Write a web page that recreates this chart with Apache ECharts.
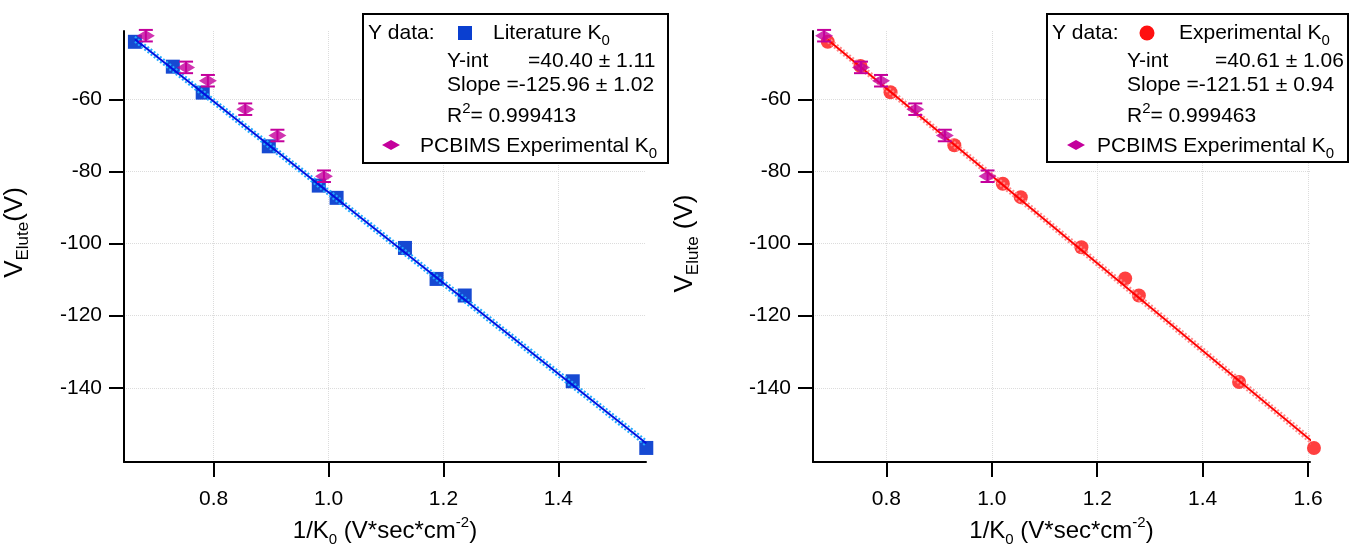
<!DOCTYPE html>
<html>
<head>
<meta charset="utf-8">
<script src="https://cdn.jsdelivr.net/npm/echarts@6/dist/echarts.min.js"></script>
<style>
  html, body { margin: 0; padding: 0; background: #fff; }
  #chart { width: 1350px; height: 544px; }
</style>
</head>
<body>
<div id="chart"></div>
<script>
// PCBIMS experimental K0 (same points in both panels)
const pcbX = [0.682, 0.752, 0.790, 0.855, 0.911, 0.992];
const pcbY = [-42.3, -51.1, -54.8, -62.7, -70.0, -81.3];
const pcbErr = [1.6, 1.6, 1.6, 1.6, 1.6, 1.6];

// literature K0 (left)
const litX = [0.663, 0.729, 0.781, 0.896, 0.983, 1.014, 1.133, 1.188, 1.237, 1.425, 1.553];
const litY = [-44.0, -50.9, -58.1, -73.0, -83.9, -87.3, -101.2, -109.8, -114.4, -138.2, -156.7];
const litFitX = [0.663, 1.553];
const litFitY = [-43.3, -155.4];
const litBandUp = [-42.6, -154.6];
const litBandLo = [-44.0, -156.2];

// experimental K0 (right)
const expX = [0.689, 0.751, 0.808, 0.929, 1.021, 1.055, 1.170, 1.253, 1.279, 1.469, 1.611];
const expY = [-44.0, -50.7, -58.0, -72.7, -83.4, -87.1, -101.0, -109.7, -114.4, -138.4, -156.7];
const expFitX = [0.689, 1.611];
const expFitY = [-43.4, -155.3];
const expBandUp = [-42.7, -154.5];
const expBandLo = [-44.1, -156.1];

const yTicks = [-140, -120, -100, -80, -60];
const xTicksL = [0.8, 1.0, 1.2, 1.4];
const xTicksR = [0.8, 1.0, 1.2, 1.4, 1.6];

const legL = ['Literature K{sub|0}', 'Y-int', '=40.40 ± 1.11', 'Slope =-125.96 ± 1.02', 'R{sup|2}= 0.999413'];
const legR = ['Experimental K{sub|0}', 'Y-int', '=40.61 ± 1.06', 'Slope =-121.51 ± 0.94', 'R{sup|2}= 0.999463'];

const FONT = 'Liberation Sans, Arial, sans-serif';
const MAG = '#c4009c';
const rich = {
  sub: { fontSize: 15, lineHeight: 15, verticalAlign: 'bottom', fontFamily: FONT, color: '#000' },
  sup: { fontSize: 15, lineHeight: 15, verticalAlign: 'top', fontFamily: FONT, color: '#000' }
};

var myChart = echarts.init(document.getElementById('chart'));

function pairs (xs, ys) {
  return xs.map((x, i) => [x, ys[i]]);
}

function xAxisOf (idx, min, max, ticks) {
  return {
    type: 'value', gridIndex: idx, min: min, max: max,
    name: '1/K{sub|0} (V*sec*cm{sup|-2})',
    nameLocation: 'middle', nameGap: 53,
    nameTextStyle: { fontSize: 24, fontFamily: FONT, color: '#000', lineHeight: 32, rich: rich },
    axisLine: { onZero: false, lineStyle: { color: '#000', width: 2 } },
    axisTick: { customValues: ticks, length: 15, lineStyle: { color: '#000', width: 2 } },
    axisLabel: { customValues: ticks, margin: 27, fontSize: 21, fontFamily: FONT, color: '#000',
      formatter: v => v.toFixed(1) },
    splitLine: { show: true, lineStyle: { color: '#dcdcdc', type: 'dotted', width: 1 } }
  };
}

function yAxisOf (idx, name, gap, shift) {
  return {
    type: 'value', gridIndex: idx, min: -160.6, max: -41,
    name: name, nameLocation: 'middle', nameGap: gap, nameRotate: 90,
    nameTextStyle: { fontSize: 26, fontFamily: FONT, color: '#000', lineHeight: 34, padding: [0, 0, 0, shift],
      rich: { sub: { fontSize: 17, lineHeight: 17, verticalAlign: 'bottom', fontFamily: FONT, color: '#000' } } },
    axisLine: { onZero: false, lineStyle: { color: '#000', width: 2 } },
    axisTick: { customValues: yTicks, length: 15, lineStyle: { color: '#000', width: 2 } },
    axisLabel: { customValues: yTicks, margin: 22, fontSize: 21, fontFamily: FONT, color: '#000' },
    splitLine: { show: true, lineStyle: { color: '#dcdcdc', type: 'dotted', width: 1 } }
  };
}

function errorBars (idx) {
  return {
    type: 'custom', xAxisIndex: idx, yAxisIndex: idx, z: 4,
    data: pcbX.map((x, i) => [x, pcbY[i] - pcbErr[i], pcbY[i] + pcbErr[i]]),
    renderItem: function (params, api) {
      const top = api.coord([api.value(0), api.value(2)]);
      const bot = api.coord([api.value(0), api.value(1)]);
      const w = 7;
      const st = { stroke: MAG, lineWidth: 2 };
      return {
        type: 'group', children: [
          { type: 'line', shape: { x1: top[0], y1: top[1], x2: bot[0], y2: bot[1] }, style: st },
          { type: 'line', shape: { x1: top[0] - w, y1: top[1], x2: top[0] + w, y2: top[1] }, style: st },
          { type: 'line', shape: { x1: bot[0] - w, y1: bot[1], x2: bot[0] + w, y2: bot[1] }, style: st }
        ]
      };
    }
  };
}

function lineSeries (idx, xs, ys, color, dotted, width) {
  return {
    type: 'line', xAxisIndex: idx, yAxisIndex: idx, data: pairs(xs, ys),
    symbol: 'none', silent: true, z: 3,
    lineStyle: { color: color, width: width, type: dotted ? [2, 2] : 'solid' }
  };
}

function legendGraphic (left, top, w, h, lines, icon, iconColor, cols) {
  const t = (x, y, text) => ({
    type: 'text', x: x, y: y, z: 100,
    style: { text: text, fontSize: 21, fontFamily: FONT, fill: '#000', verticalAlign: 'middle',
      lineHeight: 30, rich: rich }
  });
  const els = [
    { type: 'rect', z: 99, shape: { x: left, y: top, width: w, height: h },
      style: { fill: '#fff', stroke: '#000', lineWidth: 2 } },
    t(cols.yd, 33, 'Y data:'),
    t(cols.lab, 33, lines[0]),
    t(cols.txt, 61, lines[1]),
    t(cols.val, 61, lines[2]),
    t(cols.txt, 85, lines[3]),
    t(cols.txt, 116, lines[4]),
    t(cols.pcb, 146, 'PCBIMS Experimental K{sub|0}'),
    { type: 'polygon', z: 100, shape: { points: [[cols.dia - 9, 145], [cols.dia, 140], [cols.dia + 9, 145], [cols.dia, 150]] },
      style: { fill: MAG } }
  ];
  if (icon === 'square') {
    els.push({ type: 'rect', z: 100, shape: { x: cols.icon - 7, y: 26, width: 14, height: 14 }, style: { fill: iconColor } });
  } else {
    els.push({ type: 'circle', z: 100, shape: { cx: cols.icon, cy: 33, r: 7.5 }, style: { fill: iconColor } });
  }
  return els;
}

let option = {
  backgroundColor: '#fff',
  animation: false,
  grid: [
    { left: 124, top: 31, width: 522, height: 431, outerBoundsMode: 'none', containLabel: false },
    { left: 813, top: 31, width: 497, height: 431, outerBoundsMode: 'none', containLabel: false }
  ],
  xAxis: [xAxisOf(0, 0.644, 1.5525, xTicksL), xAxisOf(1, 0.661, 1.6035, xTicksR)],
  yAxis: [yAxisOf(0, 'V{sub|Elute}(V)', 92, 28), yAxisOf(1, 'V{sub|Elute} (V)', 111, 6)],
  series: [
    lineSeries(0, litFitX, litBandUp, '#22aaff', true, 2),
    lineSeries(0, litFitX, litBandLo, '#22aaff', true, 2),
    lineSeries(0, litFitX, litFitY, '#0010e0', false, 2),
    {
      type: 'scatter', xAxisIndex: 0, yAxisIndex: 0, data: pairs(litX, litY), clip: false,
      symbol: 'rect', symbolSize: 14, z: 2, itemStyle: { color: '#0a3fd0', opacity: 0.95 }
    },
    errorBars(0),
    {
      type: 'scatter', xAxisIndex: 0, yAxisIndex: 0, data: pairs(pcbX, pcbY), clip: false,
      symbol: 'diamond', symbolSize: [18, 11], z: 5, itemStyle: { color: MAG }
    },

    lineSeries(1, expFitX, expBandUp, '#ff8a8a', true, 2),
    lineSeries(1, expFitX, expBandLo, '#ff8a8a', true, 2),
    lineSeries(1, expFitX, expFitY, '#ff0000', false, 2),
    {
      type: 'scatter', xAxisIndex: 1, yAxisIndex: 1, data: pairs(expX, expY), clip: false,
      symbol: 'circle', symbolSize: 14, z: 2, itemStyle: { color: '#ff1010' }
    },
    errorBars(1),
    {
      type: 'scatter', xAxisIndex: 1, yAxisIndex: 1, data: pairs(pcbX, pcbY), clip: false,
      symbol: 'diamond', symbolSize: [18, 11], z: 5, itemStyle: { color: MAG }
    }
  ],
  graphic: [].concat(
    legendGraphic(363, 14, 305, 149, legL, 'square', '#0a3fd0',
      { yd: 368, icon: 465, lab: 493, txt: 447, val: 528, dia: 391, pcb: 420 }),
    legendGraphic(1047, 14, 301, 148, legR, 'circle', '#ff1010',
      { yd: 1052, icon: 1147, lab: 1179, txt: 1127, val: 1215, dia: 1076, pcb: 1097 })
  )
};

myChart.setOption(option);
</script>
</body>
</html>
